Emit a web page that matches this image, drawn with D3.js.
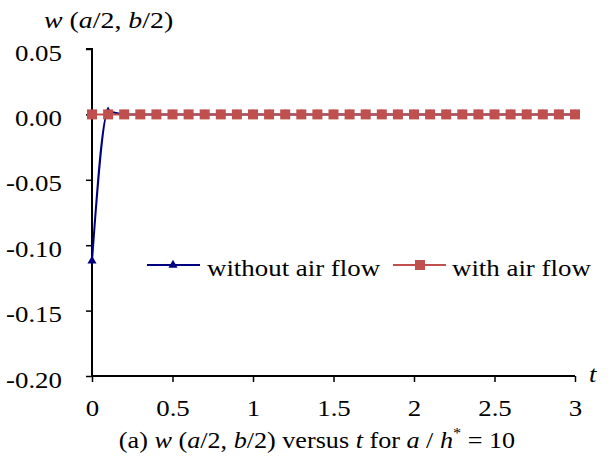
<!DOCTYPE html>
<html>
<head>
<meta charset="utf-8">
<script src="https://cdn.jsdelivr.net/npm/d3@7"></script>
</head>
<body style="margin:0">
<svg id="chart" width="608" height="456"></svg>
<script>
/*Chart data*/
const tValues = [0, 0.1, 0.2, 0.3, 0.4, 0.5, 0.6, 0.7, 0.8, 0.9, 1.0,
                 1.1, 1.2, 1.3, 1.4, 1.5, 1.6, 1.7, 1.8, 1.9, 2.0,
                 2.1, 2.2, 2.3, 2.4, 2.5, 2.6, 2.7, 2.8, 2.9, 3.0];
const withoutAirFlow = [-0.112, 0.002, 0, 0, 0, 0, 0, 0, 0, 0, 0,
                        0, 0, 0, 0, 0, 0, 0, 0, 0, 0,
                        0, 0, 0, 0, 0, 0, 0, 0, 0, 0];
const withAirFlow = [0, 0, 0, 0, 0, 0, 0, 0, 0, 0, 0,
                     0, 0, 0, 0, 0, 0, 0, 0, 0, 0,
                     0, 0, 0, 0, 0, 0, 0, 0, 0, 0];
const xTicks = [0, 0.5, 1, 1.5, 2, 2.5, 3];
const yTicks = [0.05, 0, -0.05, -0.10, -0.15, -0.20];
const seriesNames = ["without air flow", "with air flow"];

const serifFont = "'Liberation Serif', 'Times New Roman', Tinos, serif";
/*the reference text is a little wider than plain Times, so stretch it*/
const sx = 1.12;

const svg = d3.select("#chart");

const x = d3.scaleLinear().domain([0, 3]).range([92, 575]);
const y = d3.scaleLinear().domain([-0.20, 0.05]).range([376, 49]);

function serifText(sel, size) {
       return sel.style("font-family", serifFont)
              .style("font-size", size + "px")
              .attr("fill", "#000");
}

/*Axes*/
const yAxis = d3.axisLeft(y)
       .tickValues(yTicks)
       .tickSize(6)
       .tickFormat(d => d3.format(".2f")(d).replace("−", "-"));
const yG = svg.append("g")
       .attr("transform", "translate(" + x(0) + ",0)")
       .call(yAxis);
yG.select(".domain").attr("stroke", "#000").attr("stroke-width", 2).attr("d", "M-6," + y(0.05) + "H0V" + y(-0.2));
yG.selectAll(".tick line").attr("stroke", "#000").attr("stroke-width", 1.5);
serifText(yG.selectAll(".tick text"), 24)
       .attr("x", 0)
       .attr("dy", null)
       .attr("transform", "translate(-30,11) scale(" + sx + ",1)");

const xAxis = d3.axisBottom(x)
       .tickValues(xTicks)
       .tickSize(6)
       .tickFormat(d => d);
const xG = svg.append("g")
       .attr("transform", "translate(0," + y(-0.20) + ")")
       .call(xAxis);
xG.select(".domain").attr("stroke", "#000").attr("stroke-width", 2).attr("d", "M" + x(0) + ",0H" + x(3));
xG.selectAll(".tick line").attr("stroke", "#000").attr("stroke-width", 1.5);
serifText(xG.selectAll(".tick text"), 24)
       .attr("y", 0)
       .attr("dy", null)
       .attr("transform", "translate(0,40) scale(" + sx + ",1)");

/*Series*/
const blueLine = d3.line()
       .x((d, i) => x(tValues[i]))
       .y(d => y(d))
       .curve(d3.curveMonotoneX);
const redLine = d3.line()
       .x((d, i) => x(tValues[i]))
       .y(d => y(d));

svg.append("path")
       .datum(withoutAirFlow)
       .attr("fill", "none")
       .attr("stroke", "#000080")
       .attr("stroke-width", 2)
       .attr("d", blueLine);

const tri = d3.symbol().type(d3.symbolTriangle).size(36);
svg.selectAll(".blue-pt")
       .data(withoutAirFlow)
       .enter()
       .append("path")
       .attr("class", "blue-pt")
       .attr("fill", "#000080")
       .attr("transform", (d, i) => "translate(" + x(tValues[i]) + "," + y(d) + ")")
       .attr("d", tri);

svg.append("path")
       .datum(withAirFlow)
       .attr("fill", "none")
       .attr("stroke", "#c0504d")
       .attr("stroke-width", 2)
       .attr("d", redLine);

svg.selectAll(".red-pt")
       .data(withAirFlow)
       .enter()
       .append("rect")
       .attr("class", "red-pt")
       .attr("x", (d, i) => x(tValues[i]) - 5)
       .attr("y", d => y(d) - 5)
       .attr("width", 10)
       .attr("height", 10)
       .attr("fill", "#c0504d");

/*Legend*/
const legend = svg.append("g");
legend.append("line")
       .attr("x1", 147).attr("x2", 200).attr("y1", 265).attr("y2", 265)
       .attr("stroke", "#000080").attr("stroke-width", 2);
legend.append("path")
       .attr("transform", "translate(173,265)")
       .attr("fill", "#000080")
       .attr("d", tri);
serifText(legend.append("text"), 24)
       .attr("transform", "translate(207,276) scale(" + sx + ",1)")
       .text(seriesNames[0]);
legend.append("line")
       .attr("x1", 393).attr("x2", 446).attr("y1", 265).attr("y2", 265)
       .attr("stroke", "#c0504d").attr("stroke-width", 2);
legend.append("rect")
       .attr("x", 415).attr("y", 260).attr("width", 10).attr("height", 10)
       .attr("fill", "#c0504d");
serifText(legend.append("text"), 24)
       .attr("transform", "translate(452,276) scale(" + sx + ",1)")
       .text(seriesNames[1]);

/*Axis titles and caption*/
const yTitle = serifText(svg.append("text"), 24)
       .attr("transform", "translate(44,28) scale(" + (sx + 0.04) + ",1)");
yTitle.append("tspan").style("font-style", "italic").text("w");
yTitle.append("tspan").text(" (");
yTitle.append("tspan").style("font-style", "italic").text("a");
yTitle.append("tspan").text("/2, ");
yTitle.append("tspan").style("font-style", "italic").text("b");
yTitle.append("tspan").text("/2)");

serifText(svg.append("text"), 24)
       .attr("transform", "translate(589,382) scale(" + sx + ",1)")
       .style("font-style", "italic")
       .text("t");

const caption = serifText(svg.append("text"), 24)
       .attr("transform", "translate(317,448) scale(1.09,1)")
       .attr("text-anchor", "middle");
caption.append("tspan").text("(a) ");
caption.append("tspan").style("font-style", "italic").text("w");
caption.append("tspan").text(" (");
caption.append("tspan").style("font-style", "italic").text("a");
caption.append("tspan").text("/2, ");
caption.append("tspan").style("font-style", "italic").text("b");
caption.append("tspan").text("/2) versus ");
caption.append("tspan").style("font-style", "italic").text("t");
caption.append("tspan").text(" for ");
caption.append("tspan").style("font-style", "italic").text("a");
caption.append("tspan").text(" / ");
caption.append("tspan").style("font-style", "italic").text("h");
caption.append("tspan").attr("dy", -10).style("font-size", "15px").text("*");
caption.append("tspan").attr("dy", 10).text(" = 10");
</script>
</body>
</html>
